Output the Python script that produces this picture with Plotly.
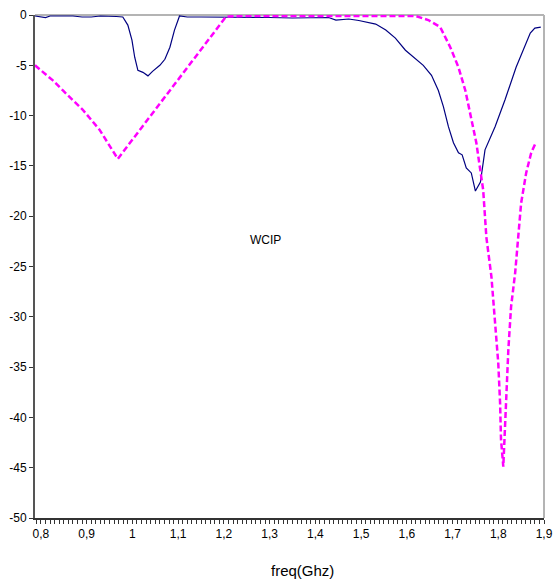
import plotly.graph_objects as go

# Measured curve (solid navy)
meas_freq = [0.787, 0.80, 0.81, 0.82, 0.85, 0.87, 0.89, 0.91, 0.93, 0.95, 0.965, 0.979,
             0.990, 0.999, 1.005, 1.012, 1.023, 1.034, 1.044, 1.060, 1.071, 1.082, 1.092,
             1.103, 1.12, 1.15, 1.18, 1.21, 1.25, 1.30, 1.35, 1.40, 1.429, 1.445, 1.460,
             1.473, 1.495, 1.510, 1.532, 1.554, 1.575, 1.597, 1.619, 1.636, 1.654, 1.669,
             1.680, 1.691, 1.702, 1.713, 1.721, 1.730, 1.741, 1.750, 1.761, 1.771, 1.793,
             1.815, 1.839, 1.870, 1.880, 1.893]
meas_db = [-0.1, -0.15, -0.25, -0.1, -0.1, -0.1, -0.2, -0.2, -0.1, -0.1, -0.15, -0.2,
           -1.0, -2.5, -4.2, -5.5, -5.7, -6.05, -5.6, -5.0, -4.4, -3.2, -1.5,
           -0.1, -0.2, -0.2, -0.2, -0.2, -0.25, -0.25, -0.3, -0.3, -0.25, -0.5, -0.45,
           -0.4, -0.55, -0.67, -0.9, -1.5, -2.3, -3.5, -4.3, -5.0, -6.0, -7.5,
           -9.1, -11.1, -12.7, -13.7, -13.9, -15.2, -15.7, -17.5, -16.6, -13.4, -11.1,
           -8.4, -5.2, -1.8, -1.3, -1.2]

# WCIP simulation (dashed magenta)
wcip_freq = [0.787, 0.826, 0.848, 0.891, 0.928, 0.968, 1.02, 1.08, 1.14, 1.205, 1.25,
             1.30, 1.40, 1.50, 1.60, 1.619, 1.647, 1.673, 1.695, 1.713, 1.728, 1.741,
             1.752, 1.767, 1.774, 1.785, 1.793, 1.800, 1.804, 1.806, 1.811, 1.815,
             1.817, 1.822, 1.828, 1.837, 1.843, 1.850, 1.861, 1.872, 1.883]
wcip_db = [-5.0, -6.5, -7.5, -9.4, -11.4, -14.3, -11.2, -7.6, -4.0, -0.15, -0.1,
           -0.1, -0.1, -0.1, -0.1, -0.1, -0.5, -1.2, -3.2, -5.2, -7.5, -10.4,
           -12.7, -17.4, -22.1, -26.0, -30.6, -34.6, -38.6, -42.2, -44.9, -40.6,
           -37.3, -33.3, -29.0, -25.6, -22.4, -18.7, -15.7, -13.7, -12.6]

x_tick_vals = [0.8, 0.9, 1.0, 1.1, 1.2, 1.3, 1.4, 1.5, 1.6, 1.7, 1.8, 1.9]
x_tick_text = ["0,8", "0,9", "1", "1,1", "1,2", "1,3", "1,4", "1,5", "1,6", "1,7", "1,8", "1,9"]
y_tick_vals = [0, -5, -10, -15, -20, -25, -30, -35, -40, -45, -50]
y_tick_text = ["0", "-5", "-10", "-15", "-20", "-25", "-30", "-35", "-40", "-45", "-50"]

fig = go.Figure()
fig.add_trace(go.Scatter(x=meas_freq, y=meas_db, mode="lines",
                         line=dict(color="#000080", width=1.2), showlegend=False))
fig.add_trace(go.Scatter(x=wcip_freq, y=wcip_db, mode="lines",
                         line=dict(color="#FF00FF", width=2.5, dash="6px,3px"),
                         showlegend=False))

fig.add_annotation(x=1.292, y=-22.4, text="WCIP", showarrow=False,
                   font=dict(family="Liberation Sans, Arial", size=12, color="black"))
fig.add_annotation(xref="paper", yref="paper", x=(302 - 35) / 509, y=-(570 - 518) / 503,
                   text="freq(Ghz)", showarrow=False, yanchor="middle",
                   font=dict(family="Liberation Sans, Arial", size=15, color="black"))

# light grey top and right border
fig.add_shape(type="line", xref="paper", yref="paper", x0=0, x1=1, y0=1, y1=1,
              line=dict(color="#b4b4b4", width=2), layer="below")
fig.add_shape(type="line", xref="paper", yref="paper", x0=1, x1=1, y0=0, y1=1,
              line=dict(color="#b4b4b4", width=2), layer="below")

fig.update_layout(
    width=556, height=582,
    margin=dict(l=35, r=12, t=15, b=64, autoexpand=False),
    paper_bgcolor="white", plot_bgcolor="white",
    font=dict(family="Liberation Sans, Arial", size=12, color="black"),
    xaxis=dict(range=[0.787, 1.9], tickmode="array", tickvals=x_tick_vals,
               ticktext=x_tick_text, ticks="outside", ticklen=4, tickwidth=1,
               tickcolor="#333333", showline=True, linecolor="#333333", linewidth=1.5,
               showgrid=False, zeroline=False, automargin=False,
               minor=dict(tickmode="linear", tick0=0.8, dtick=0.01, ticks="outside",
                          ticklen=4, tickcolor="#333333", tickwidth=1, showgrid=False),
               tickfont=dict(size=12)),
    yaxis=dict(range=[-50, 0], tickmode="array", tickvals=y_tick_vals,
               ticktext=y_tick_text, ticks="outside", ticklen=4, tickwidth=1,
               tickcolor="#333333", showline=True, linecolor="#555555", linewidth=2,
               showgrid=False, zeroline=False, automargin=False, tickfont=dict(size=12)),
)

fig.write_html("out.html", config={"displayModeBar": False},
               post_script="document.body.style.margin='0';document.body.style.overflow='hidden';")
